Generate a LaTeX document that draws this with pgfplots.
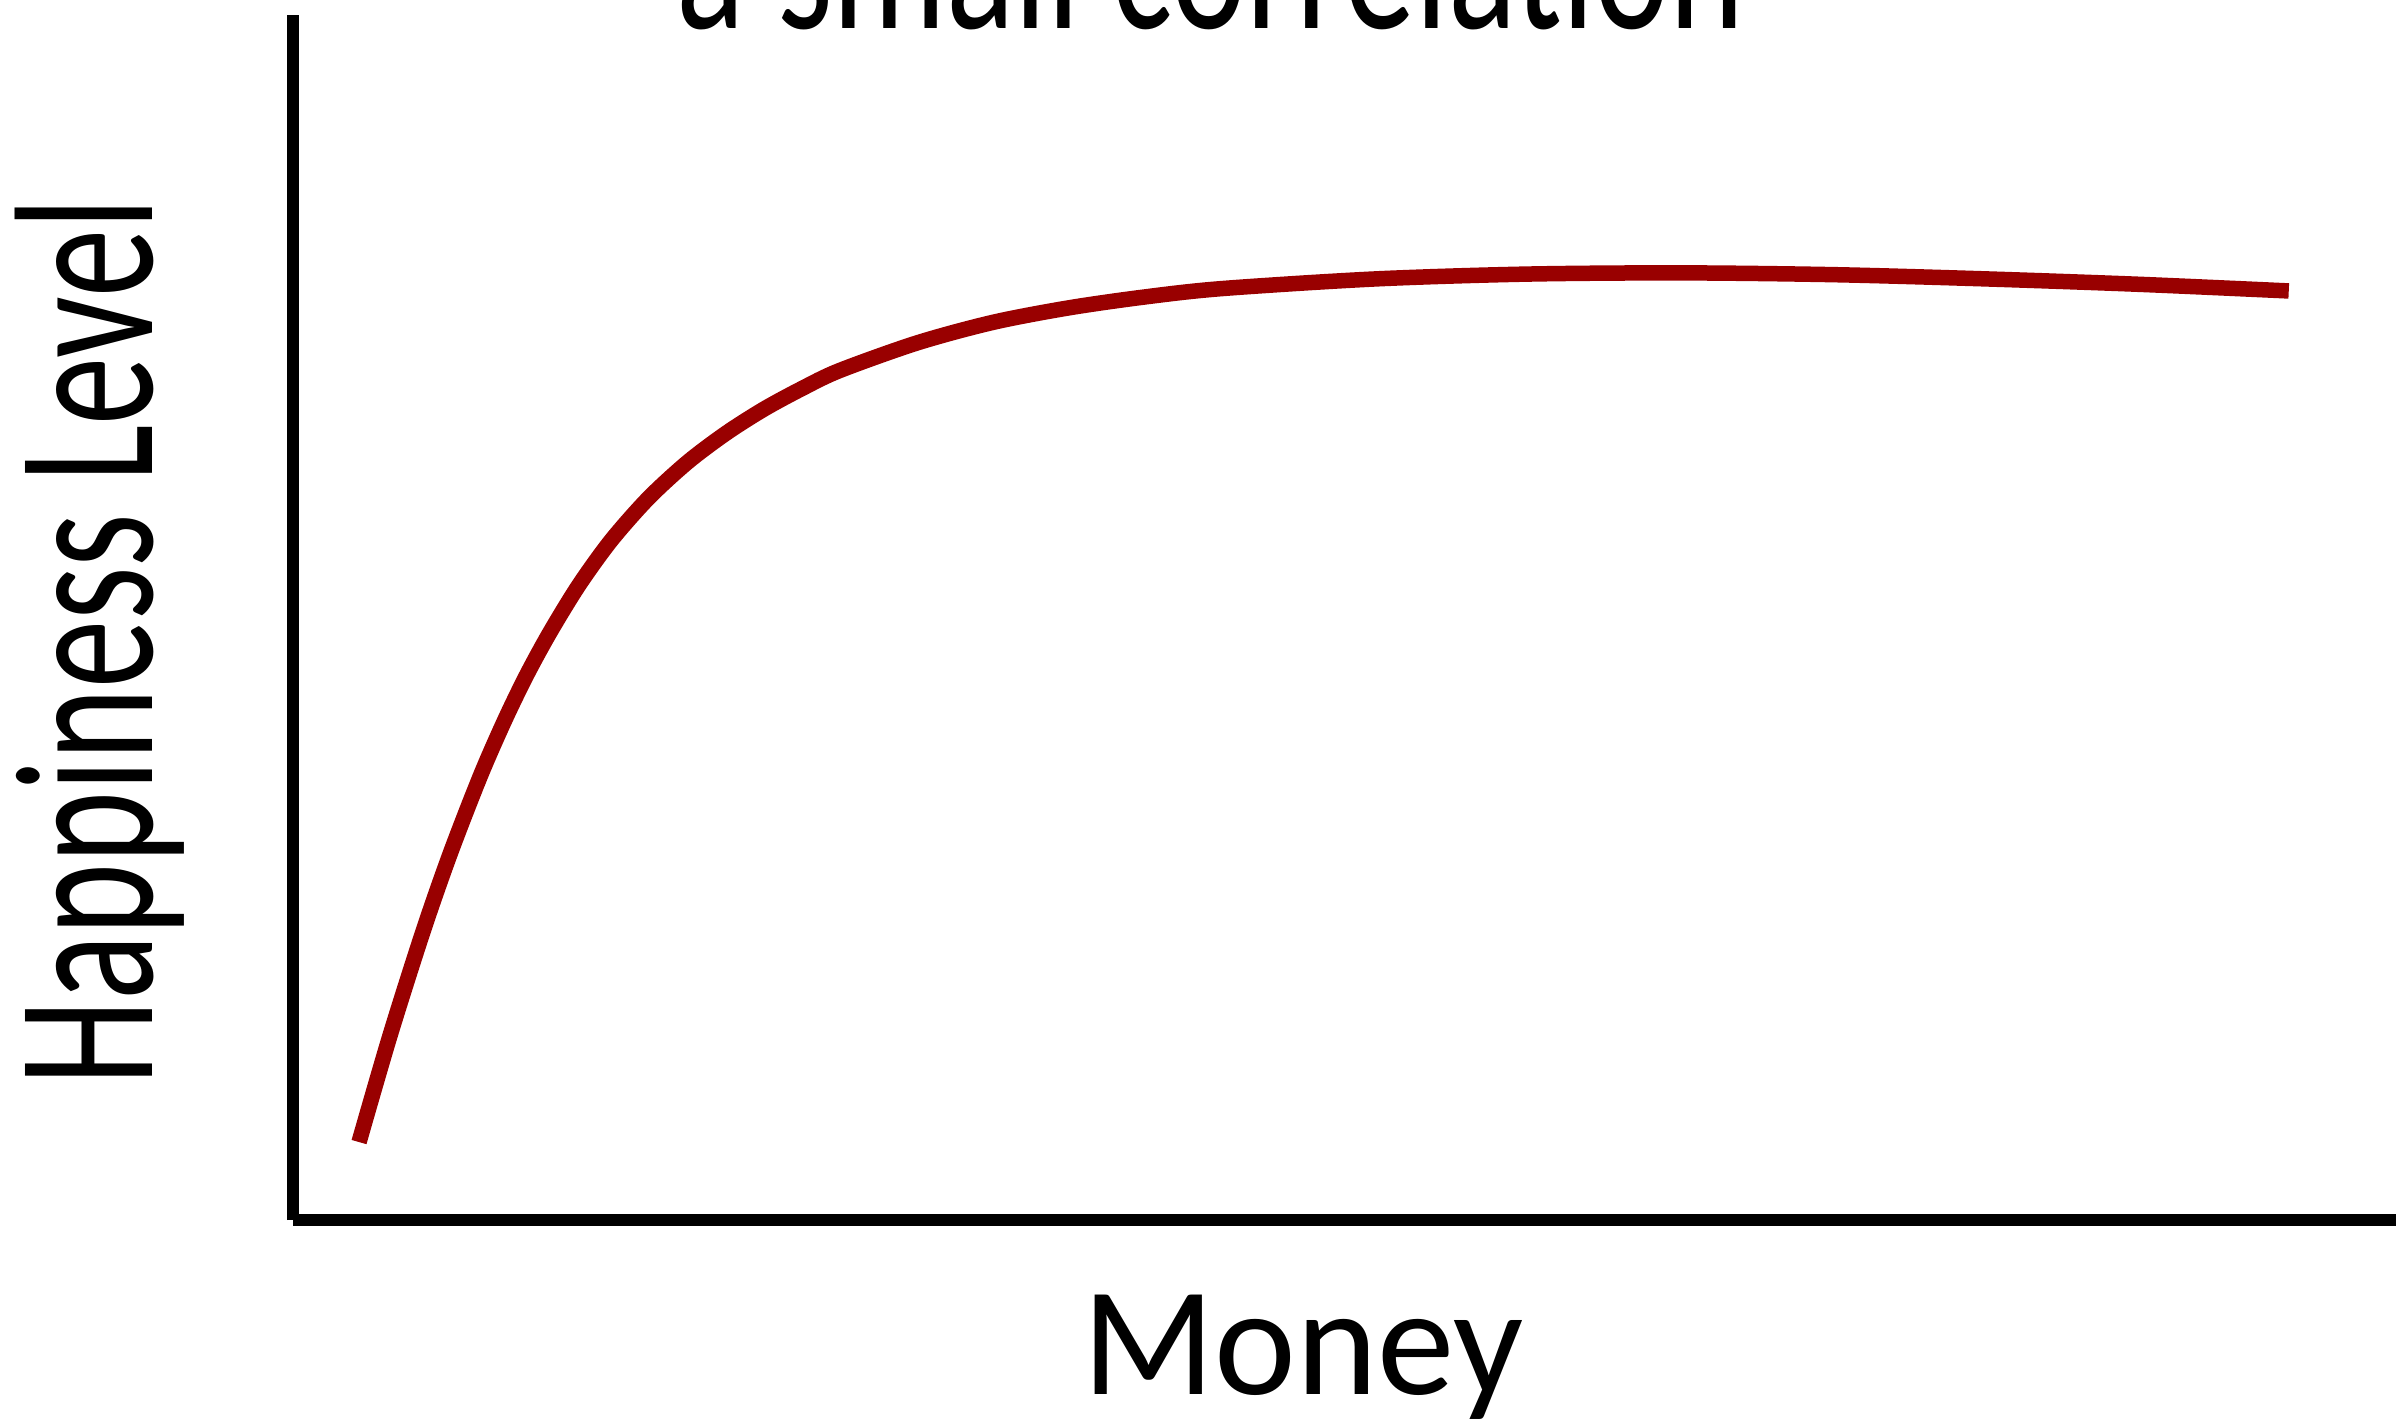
\documentclass[border=0pt]{standalone}
\usepackage{fontspec}
\setmainfont{Carlito}
\usepackage{graphicx}
\usepackage{pgfplots}
\pgfplotsset{compat=1.18}
\definecolor{curvered}{RGB}{153,0,0}
\begin{document}
\begin{tikzpicture}
\path[use as bounding box] (-58.6pt,-40.2pt) rectangle (420.6pt,244pt);
\clip (-58.6pt,-40.2pt) rectangle (420.6pt,244pt);
\begin{axis}[
  at={(0pt,0pt)}, anchor=origin,
  width=420.6pt, height=241pt, scale only axis,
  xmin=0, xmax=100, ymin=0, ymax=100,
  axis lines=left,
  axis line style={-, line width=2.4pt, black},
  xtick=\empty, ytick=\empty,
  clip=false,
]
\addplot[curvered, line width=3.1pt, line cap=butt, smooth] coordinates {
(3.14,6.47) (4.61,15.29) (6.18,23.93) (7.47,30.38) (8.89,36.77)
(10.04,41.37) (11.1,45.19) (12.22,48.77) (13.6,52.7) (15.13,56.4)
(16.9,59.9) (18.77,62.9) (20.6,65.3) (22.4,67.3) (24.2,69.0)
(26.0,70.5) (29.7,72.8) (33.3,74.5) (36.9,75.7) (40.5,76.6)
(44.2,77.3) (51.5,78.1) (58.7,78.5) (66.0,78.6) (73.3,78.45)
(80.5,78.1) (87.8,77.65) (94.9,77.1)
};
\end{axis}
\node[anchor=base, inner sep=0pt] at (183.5pt,238.2pt)
  {\fontsize{39.6pt}{44pt}\selectfont\scalebox{0.72}[1]{a small correlation}};
\node[anchor=base, inner sep=0pt] at (202pt,-34.8pt)
  {\fontsize{31pt}{36pt}\selectfont Money};
\node[anchor=base, rotate=90, inner sep=0pt] at (-28pt,115.6pt)
  {\fontsize{39.6pt}{44pt}\selectfont\scalebox{0.69}[1]{Happiness Level}};
\end{tikzpicture}
\end{document}
